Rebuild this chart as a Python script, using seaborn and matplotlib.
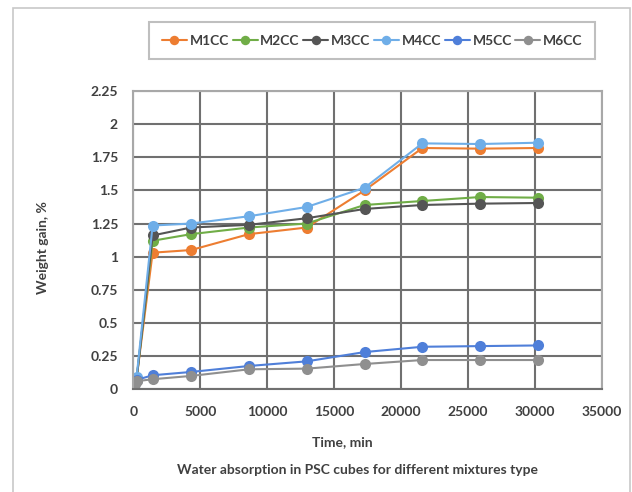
import pandas as pd
import matplotlib.pyplot as plt
import seaborn as sns
from matplotlib.patches import Rectangle

# time of reading, min
time_min = [0, 10, 30, 60, 120, 240, 1440, 4320, 8640, 12960, 17280, 21600, 25920, 30240]

# weight gain, %
m1cc = [0, 0.02, 0.03, 0.05, 0.06, 0.08, 1.03, 1.05, 1.17, 1.22, 1.50, 1.82, 1.815, 1.82]
m2cc = [0, 0.02, 0.03, 0.05, 0.06, 0.08, 1.12, 1.17, 1.22, 1.25, 1.39, 1.42, 1.45, 1.445]
m3cc = [0, 0.01, 0.03, 0.04, 0.06, 0.07, 1.16, 1.22, 1.24, 1.29, 1.36, 1.39, 1.40, 1.405]
m4cc = [0, 0.02, 0.04, 0.05, 0.07, 0.09, 1.235, 1.25, 1.305, 1.375, 1.52, 1.855, 1.85, 1.86]
m5cc = [0, 0.01, 0.02, 0.03, 0.05, 0.07, 0.105, 0.13, 0.175, 0.21, 0.28, 0.32, 0.325, 0.33]
m6cc = [0, 0.01, 0.02, 0.03, 0.04, 0.06, 0.075, 0.10, 0.15, 0.155, 0.19, 0.22, 0.22, 0.22]

mixes = ["M1CC", "M2CC", "M3CC", "M4CC", "M5CC", "M6CC"]
colors = ["#ED7D31", "#70AD47", "#555555", "#6FAEE8", "#4F7FD9", "#8F8F8F"]

y_ticks = [0, 0.25, 0.5, 0.75, 1, 1.25, 1.5, 1.75, 2, 2.25]
y_tick_labels = ["0", "0.25", "0.5", "0.75", "1", "1.25", "1.5", "1.75", "2", "2.25"]
x_ticks = [0, 5000, 10000, 15000, 20000, 25000, 30000, 35000]

rows = []
for name, vals in zip(mixes, [m1cc, m2cc, m3cc, m4cc, m5cc, m6cc]):
    for t, v in zip(time_min, vals):
        rows.append({"Time": t, "Gain": v, "Mix": name})
df = pd.DataFrame(rows)

sns.set_style("white")
plt.rcParams["font.family"] = ["Lato", "DejaVu Sans"]
plt.rcParams["font.weight"] = "bold"

txt = "#404040"
fig = plt.figure(figsize=(6.32, 4.92), dpi=100)
ax = fig.add_axes([0.211, 0.209, 0.741, 0.606])

sns.lineplot(data=df, x="Time", y="Gain", hue="Mix", hue_order=mixes,
             palette=dict(zip(mixes, colors)), marker="o", markersize=8,
             markeredgewidth=0, linewidth=1.5, sort=False, ax=ax)

ax.set_xlim(0, 35000)
ax.set_ylim(0, 2.25)
ax.set_xticks(x_ticks)
ax.set_xticklabels([str(t) for t in x_ticks])
ax.set_yticks(y_ticks)
ax.set_yticklabels(y_tick_labels)
ax.tick_params(length=0, labelsize=10, labelcolor=txt)
ax.tick_params(axis="y", pad=11)
ax.tick_params(axis="x", pad=12)
ax.grid(True, color="#707070", linewidth=1.5)
ax.set_axisbelow(True)
for s in ax.spines.values():
    s.set_color("#a8a8a8")
    s.set_linewidth(1.5)
ax.spines["bottom"].set_color("#707070")
ax.set_xlabel("")
ax.set_ylabel("")

handles, labels = ax.get_legend_handles_labels()
ax.get_legend().remove()
leg = fig.legend(handles, labels, loc="center", bbox_to_anchor=(0.589, 0.917),
                 ncol=6, frameon=True, fancybox=False, handlelength=1.8,
                 handletextpad=0.2, columnspacing=0.25, fontsize=10,
                 borderpad=0.9, markerscale=0.85)
leg.get_frame().set_edgecolor("#b0b0b0")
leg.get_frame().set_linewidth(1.5)
for t in leg.get_texts():
    t.set_color(txt)

fig.text(0.068, 0.496, "Weight gain, %", rotation=90, ha="center", va="center",
         fontsize=10, color=txt, fontweight="bold")
fig.text(0.541, 0.102, "Time, min", ha="center", va="center",
         fontsize=10, color=txt, fontweight="bold")
fig.text(0.565, 0.045, "Water absorption in PSC cubes for different mixtures type",
         ha="center", va="center", fontsize=10, color=txt, fontweight="bold")

fig.patches.append(Rectangle((0.021, -0.02), 0.976, 1.003, transform=fig.transFigure,
                             fill=False, edgecolor="#c8c8c8", linewidth=1.2))

fig.savefig("out.png", dpi=100)
